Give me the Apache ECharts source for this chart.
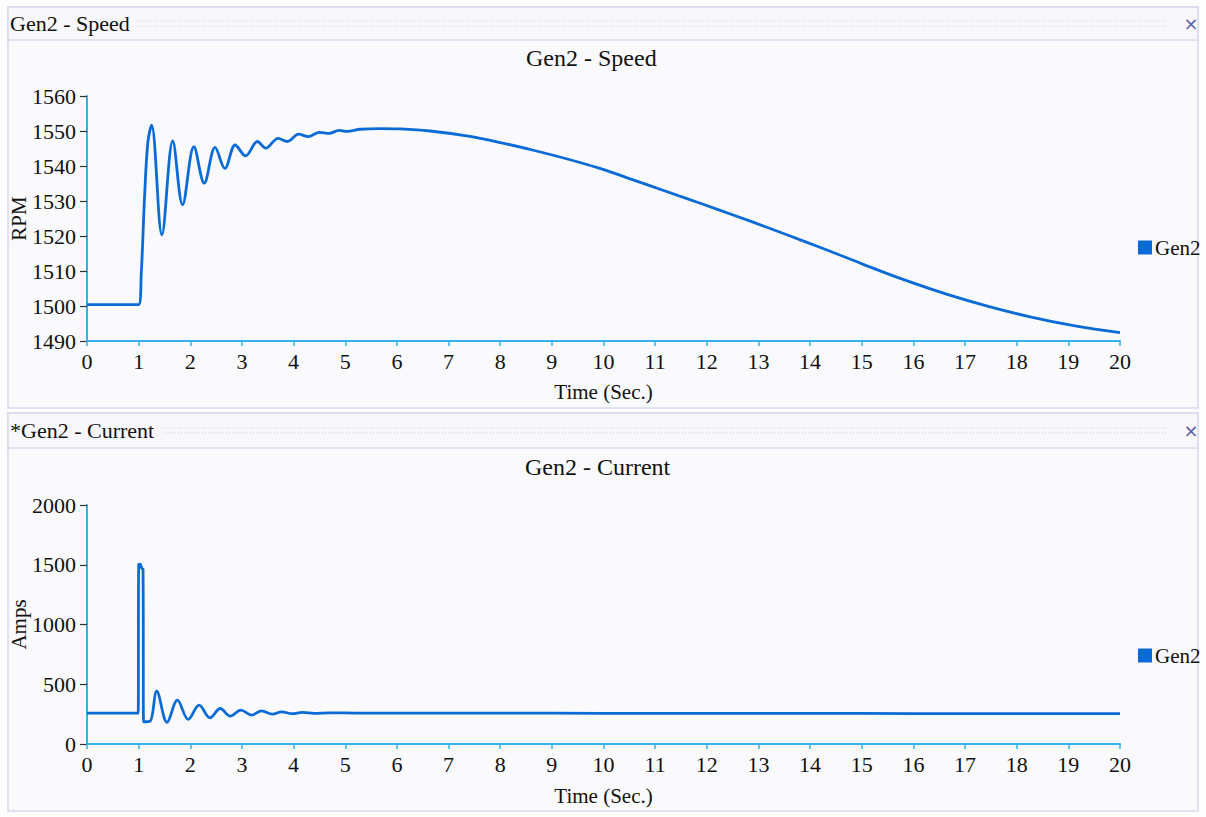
<!DOCTYPE html>
<html>
<head>
<meta charset="utf-8">
<script src="https://cdn.jsdelivr.net/npm/echarts@6/dist/echarts.min.js"></script>
<style>
  html, body { margin: 0; padding: 0; background: #fdfdfe; }
  #chart { width: 1206px; height: 817px; }
</style>
</head>
<body>
<div id="chart"></div>
<script>
// ---- Data ----
const speedTime = [0, 1.0, 1.05, 1.12, 1.18, 1.25, 1.45, 1.66, 1.85, 2.07, 2.27, 2.48, 2.67, 2.87, 3.07, 3.30, 3.46, 3.70, 3.88, 4.10, 4.28, 4.50, 4.69, 4.88, 5.03, 5.29, 5.67, 6.06, 6.64, 7.35, 8.0, 8.64, 9.3, 9.93, 10.6, 11.22, 11.9, 12.51, 13.2, 13.9, 14.5, 15.03, 15.8, 16.64, 17.45, 18.26, 19.1, 20];
const speedRPM  = [1500.4, 1500.4, 1509, 1533, 1547, 1551.7, 1520.3, 1547.2, 1528.9, 1545.5, 1535.1, 1545.3, 1539.3, 1546, 1542.9, 1547, 1545.1, 1547.9, 1547, 1549.1, 1548.4, 1549.6, 1549.3, 1550.2, 1549.9, 1550.5, 1550.7, 1550.6, 1550, 1548.6, 1546.7, 1544.5, 1542, 1539.3, 1535.9, 1532.7, 1529.2, 1526, 1522.3, 1518.4, 1515, 1511.9, 1507.6, 1503.4, 1499.9, 1496.9, 1494.4, 1492.4];

const currentTime = [0, 0.99, 1.0, 1.03, 1.06, 1.085, 1.095, 1.22, 1.35, 1.55, 1.75, 1.96, 2.17, 2.38, 2.58, 2.77, 2.98, 3.19, 3.38, 3.59, 3.77, 3.97, 4.17, 4.4, 4.7, 5.2, 6, 8, 10, 12, 14, 16, 18, 20];
const currentAmps = [258, 258, 1500, 1505, 1470, 1460, 186, 190, 442, 181, 367, 206, 325, 219, 297, 233, 283, 242, 278, 250, 269, 254, 264, 257, 261, 259, 258, 258, 257, 256, 256, 255, 255, 255];

const timeRange    = [0, 20, 1];       // min, max, interval
const speedRange   = [1490, 1560, 10];
const currentRange = [0, 2000, 500];

const seriesName = 'Gen2';
const speedTitle = 'Gen2 - Speed';
const currentTitle = 'Gen2 - Current';
const speedHeader = 'Gen2 - Speed';
const currentHeader = '*Gen2 - Current';
const xName = 'Time (Sec.)';
const speedYName = 'RPM';
const currentYName = 'Amps';

// ---- Styles ----
const FONT = '"Liberation Serif", "DejaVu Serif", serif';
const AXIS_COLOR = '#35b2ec';
const LINE_COLOR = '#0a6bd6';
const BORDER = '#d9d9ee';

const pair = (xs, ys) => xs.map((x, i) => [x, ys[i]]);
const plain = v => String(v);

function xAxisCfg(gridIndex, nameGap) {
  return {
    type: 'value', gridIndex,
    min: timeRange[0], max: timeRange[1], interval: timeRange[2],
    name: xName, nameLocation: 'middle', nameGap, nameMoveOverlap: false,
    nameTextStyle: { fontFamily: FONT, fontSize: 21, color: '#111' },
    axisLine: { show: true, onZero: false, lineStyle: { color: AXIS_COLOR, width: 2 } },
    axisTick: { show: true, length: 5, lineStyle: { color: AXIS_COLOR, width: 1.5 } },
    axisLabel: { fontFamily: FONT, fontSize: 22, color: '#111', margin: 9, formatter: plain },
    splitLine: { show: false }
  };
}
function yAxisCfg(gridIndex, range, name) {
  return {
    type: 'value', gridIndex,
    min: range[0], max: range[1], interval: range[2],
    name, nameLocation: 'middle', nameGap: 58, nameRotate: 90, nameMoveOverlap: false,
    nameTextStyle: { fontFamily: FONT, fontSize: 21, color: '#111' },
    axisLine: { show: true, lineStyle: { color: AXIS_COLOR, width: 2 } },
    axisTick: { show: true, length: 7, lineStyle: { color: '#333', width: 1.2 } },
    axisLabel: { fontFamily: FONT, fontSize: 22, color: '#111', margin: 11, formatter: plain },
    splitLine: { show: false }
  };
}

function panel(y, h, headerText, headerH) {
  return [
    { type: 'rect', z: -10, silent: true, shape: { x: 8, y, width: 1190, height: h },
      style: { fill: '#fafafd', stroke: BORDER, lineWidth: 1.5 } },
    { type: 'rect', z: -9, silent: true, shape: { x: 8, y, width: 1190, height: headerH },
      style: { fill: '#f8f8fc', stroke: BORDER, lineWidth: 1.5 } },
    { type: 'text', z: -8, silent: true, x: 10, y: y + headerH / 2,
      style: { text: headerText, font: '22px ' + FONT, fill: '#111', textVerticalAlign: 'middle' } },
    { type: 'line', z: -8, silent: true,
      shape: { x1: headerText.length * 9 + 28, y1: y + headerH / 2 - 2.5, x2: 1168, y2: y + headerH / 2 - 2.5 },
      style: { stroke: '#cfcfd8', lineWidth: 1, lineDash: [1, 2] } },
    { type: 'line', z: -8, silent: true,
      shape: { x1: headerText.length * 9 + 28, y1: y + headerH / 2 + 2.5, x2: 1168, y2: y + headerH / 2 + 2.5 },
      style: { stroke: '#cfcfd8', lineWidth: 1, lineDash: [1, 2] } },
    { type: 'text', z: -8, silent: true, x: 1191, y: y + headerH / 2,
      style: { text: '×', font: '18px "DejaVu Sans", sans-serif', fill: '#5a5fa8', textAlign: 'center', textVerticalAlign: 'middle' } }
  ];
}

const chart = echarts.init(document.getElementById('chart'), null, { renderer: 'svg' });
chart.setOption({
  backgroundColor: '#fdfdfe',
  animation: false,
  graphic: [].concat(panel(7, 401, speedHeader, 33), panel(413, 398, currentHeader, 35)),
  title: [
    { text: speedTitle, left: 521, top: 41, textStyle: { fontFamily: FONT, fontSize: 24, fontWeight: 'normal', color: '#111' } },
    { text: currentTitle, left: 520, top: 450, textStyle: { fontFamily: FONT, fontSize: 24, fontWeight: 'normal', color: '#111' } }
  ],
  legend: [
    { data: [seriesName], left: 1133, top: 232, icon: 'rect', itemWidth: 14, itemHeight: 14, itemGap: 4,
      textStyle: { fontFamily: FONT, fontSize: 21, color: '#111', padding: [0, 0, 0, -2] } },
    { data: [seriesName], left: 1133, top: 640, icon: 'rect', itemWidth: 14, itemHeight: 14, itemGap: 4,
      textStyle: { fontFamily: FONT, fontSize: 21, color: '#111', padding: [0, 0, 0, -2] } }
  ],
  grid: [
    { left: 87, top: 96, width: 1033, height: 245, containLabel: false, outerBoundsMode: 'none' },
    { left: 87, top: 505, width: 1033, height: 239, containLabel: false, outerBoundsMode: 'none' }
  ],
  xAxis: [xAxisCfg(0, 40), xAxisCfg(1, 41)],
  yAxis: [yAxisCfg(0, speedRange, speedYName), yAxisCfg(1, currentRange, currentYName)],
  series: [
    { name: seriesName, type: 'line', xAxisIndex: 0, yAxisIndex: 0, data: pair(speedTime, speedRPM),
      smooth: 0.35, showSymbol: false, color: LINE_COLOR, lineStyle: { color: LINE_COLOR, width: 2.8 } },
    { name: seriesName, type: 'line', xAxisIndex: 1, yAxisIndex: 1, data: pair(currentTime, currentAmps),
      smooth: 0.35, showSymbol: false, color: LINE_COLOR, lineStyle: { color: LINE_COLOR, width: 2.8 } }
  ]
});
</script>
</body>
</html>
